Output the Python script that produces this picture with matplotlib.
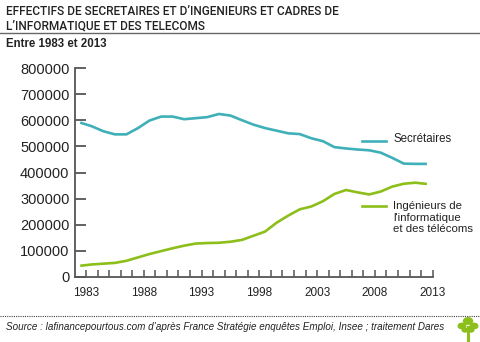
import numpy as np
import matplotlib
matplotlib.use('Agg')
import matplotlib.pyplot as plt
from matplotlib.lines import Line2D
from matplotlib.patches import Circle
from matplotlib.ticker import FixedLocator

years = list(range(1983, 2014))
secretaires = [591000, 577000, 558000, 546000, 546000, 570000, 599000, 614000,
               614000, 604000, 608000, 612000, 624000, 618000, 600000, 583000,
               570000, 560000, 550000, 547000, 531000, 520000, 497000, 492000,
               488000, 485000, 476000, 456000, 434000, 433000, 433000]
ingenieurs = [43000, 48000, 51000, 54000, 62000, 75000, 88000, 99000,
              110000, 120000, 128000, 130000, 131000, 135000, 142000, 158000,
              174000, 208000, 235000, 259000, 270000, 290000, 318000, 333000,
              324000, 316000, 327000, 346000, 357000, 361000, 356000]
label_years = [1983, 1988, 1993, 1998, 2003, 2008, 2013]
y_ticks = list(range(0, 800001, 100000))

TEAL = '#3fb0b8'
GREEN = '#8cbf1a'
TXT = '#222222'
AXC = '#555555'

plt.rcParams['font.family'] = ['Liberation Sans', 'DejaVu Sans']

fig = plt.figure(figsize=(4.8, 3.42), dpi=100)
ax = fig.add_axes([75 / 480, 65 / 342, 357.7 / 480, 209 / 342])

# points sit half a year to the left of the year ticks, as in the original
x = np.array(years) - 0.5
ax.plot(x, secretaires, color=TEAL, lw=1.9, solid_capstyle='butt', clip_on=False)
ax.plot(x, ingenieurs, color=GREEN, lw=1.9, solid_capstyle='butt', clip_on=False)

ax.set_xlim(1982.05, 2013)
ax.set_ylim(0, 800000)
for s in ['top', 'right']:
    ax.spines[s].set_visible(False)
for s in ['left', 'bottom']:
    ax.spines[s].set_color(AXC)
    ax.spines[s].set_linewidth(1.3)

ax.set_yticks(y_ticks)
ax.set_yticklabels([str(v) for v in y_ticks])
ax.tick_params(axis='y', direction='in', length=8, width=1.3, color=AXC,
               labelsize=10.5, labelcolor=TXT, pad=4)

ax.set_xticks(label_years)
ax.set_xticklabels([str(v) for v in label_years])
ax.xaxis.set_minor_locator(FixedLocator(years))
ax.tick_params(axis='x', which='major', direction='in', length=5, width=1.1,
               color=AXC, labelsize=8.5, labelcolor=TXT, pad=7)
ax.tick_params(axis='x', which='minor', direction='in', length=5, width=1.1,
               color=AXC)

# legend drawn beside the lines
fig.add_artist(Line2D([362 / 480, 386 / 480], [1 - 141 / 342, 1 - 141 / 342],
                      color=TEAL, lw=1.9))
fig.text(393 / 480, 1 - 139 / 342, 'Secrétaires', fontsize=8.3, color=TXT,
         va='center', ha='left')
fig.add_artist(Line2D([362 / 480, 386 / 480], [1 - 206 / 342, 1 - 206 / 342],
                      color=GREEN, lw=1.9))
fig.text(393 / 480, 1 - 201 / 342, "Ingénieurs de\nl'informatique\net des télécoms",
         fontsize=8.2, color=TXT, va='top', ha='left', linespacing=1.2)

# header
fig.text(6 / 480, 1 - 5 / 342,
         "EFFECTIFS DE SECRETAIRES ET D\u2019INGENIEURS ET CADRES DE\n"
         "L\u2019INFORMATIQUE ET DES TELECOMS",
         fontsize=8.6, fontweight='medium', color=TXT, va='top', ha='left',
         family=['Roboto', 'DejaVu Sans'], linespacing=1.15)
fig.add_artist(Line2D([0, 1], [1 - 33 / 342, 1 - 33 / 342], color='#666666', lw=1))
fig.text(6 / 480, 1 - 44 / 342, 'Entre 1983 et 2013', fontsize=8.3,
         fontweight='bold', color=TXT, va='center', ha='left')

# footer
fig.add_artist(Line2D([0, 1], [1 - 316 / 342, 1 - 316 / 342], color='#444444',
                      lw=0.8, ls=(0, (1, 1))))
fig.text(6 / 480, 1 - 327 / 342,
         "Source : lafinancepourtous.com d\u2019après France Stratégie enquêtes Emploi, "
         "Insee ; traitement Dares",
         fontsize=7.1, style='italic', color=TXT, va='center', ha='left')

# small tree logo
fig.add_artist(Line2D([468 / 480, 468 / 480], [1 - 341 / 342, 1 - 327 / 342],
                      color=GREEN, lw=2.2))
for cx, cy, r in [(462, 326, 3.8), (468, 321, 4.5), (474, 326, 3.8),
                  (465, 330, 2.8), (471, 330, 2.8)]:
    fig.add_artist(Circle((cx / 480, 1 - cy / 342), r / 480, color=GREEN,
                          transform=fig.transFigure))

fig.savefig('out.png', dpi=100)
